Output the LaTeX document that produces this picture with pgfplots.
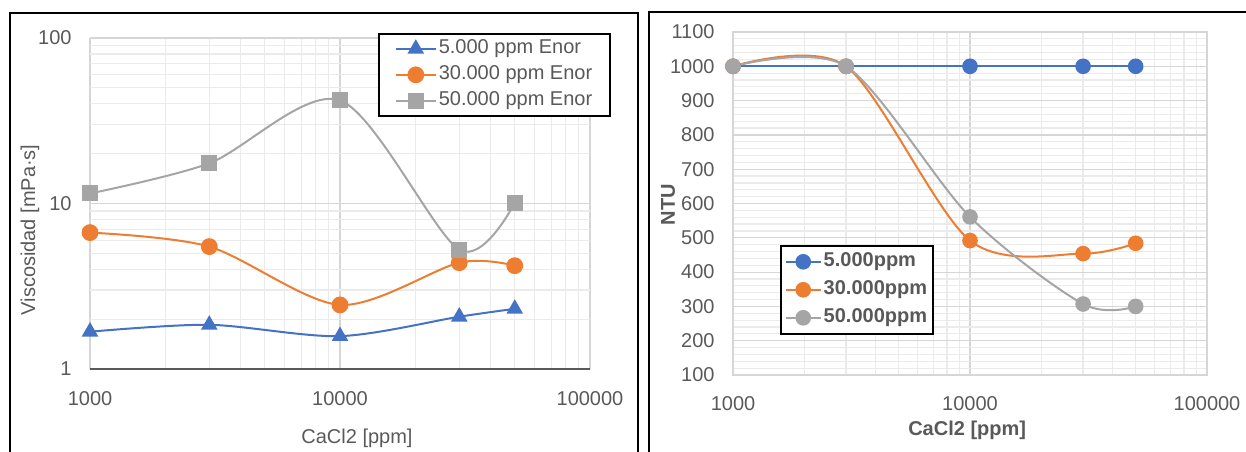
\documentclass[border=0pt]{standalone}
\usepackage{pgfplots}
\pgfplotsset{compat=1.18}
\usepackage{fontspec}
\setmainfont{Liberation Sans}
\definecolor{cblue}{HTML}{4472C4}
\definecolor{corange}{HTML}{ED7D31}
\definecolor{cgray}{HTML}{A5A5A5}
\definecolor{ctext}{HTML}{595959}
\definecolor{gmaj}{HTML}{D6D6D6}
\definecolor{gmin}{HTML}{EBEBEB}
\begin{document}
\begin{tikzpicture}
\path[use as bounding box] (0,0) rectangle (623pt,225.5pt);
\draw[line width=1.25pt] (5pt,-2pt) -- (5pt,219pt) -- (319pt,219pt) -- (319pt,-2pt);
\draw[line width=1.25pt] (324.5pt,-2pt) -- (324.5pt,219.5pt) -- (626pt,219.5pt);

\begin{axis}[
  scale only axis, anchor=south west,
  at={(45pt,41pt)}, width=250pt, height=165.5pt,
  xmode=log, ymode=log, xmin=1000, xmax=100000, ymin=1, ymax=100,
  xtick={1000,10000,100000}, xticklabels={1000,10000,100000},
  minor xtick={2000,3000,4000,5000,6000,7000,8000,9000,20000,30000,40000,50000,60000,70000,80000,90000},
  ytick={1,10,100}, yticklabels={1,10,100},
  minor ytick={2,3,4,5,6,7,8,9,20,30,40,50,60,70,80,90},
  grid=both,
  major grid style={draw=gmaj, line width=0.6pt},
  minor grid style={draw=gmin, line width=0.6pt},
  major tick length=0pt, minor tick length=0pt,
  tick label style={font=\fontsize{10}{12}\selectfont, text=ctext},
  yticklabel style={xshift=-5.7pt},
  xticklabel style={yshift=-7.6pt},
  axis line style={draw=none},
  xlabel={CaCl2 [ppm]},
  xlabel style={font=\fontsize{10}{12}\selectfont, text=ctext, at={(axis description cs:0.534,-0.208)}, anchor=center},
  ylabel={Viscosidad [mPa·s]},
  ylabel style={font=\fontsize{10}{12}\selectfont, text=ctext, at={(axis description cs:-0.12,0.42)}, anchor=center},
  legend cell align=left,
  legend style={at={(axis description cs:0.576,1.015)}, anchor=north west,
    draw=black, line width=0.8pt, inner xsep=8pt, inner ysep=1pt, row sep=0pt,
    font=\fontsize{10}{12}\selectfont, text=ctext,
    nodes={inner xsep=1pt, inner ysep=0pt, text height=9pt, text depth=4pt}},
  legend image code/.code={\draw[mark repeat=2,mark phase=2] plot coordinates {(0pt,0pt) (10pt,0pt) (20pt,0pt)};},
]
\addplot[cblue, line width=1pt, smooth, mark=triangle*, mark size=3.8pt, mark options={fill=cblue, draw=cblue}] coordinates {
(1000,1.68) (3000,1.85) (10000,1.58) (30000,2.07) (50000,2.31)};
\addlegendentry{5.000 ppm Enor}
\addplot[corange, line width=1pt, smooth, mark=*, mark size=3.7pt, mark options={fill=corange, draw=corange}] coordinates {
(1000,6.67) (3000,5.49) (10000,2.44) (30000,4.39) (50000,4.21)};
\addlegendentry{30.000 ppm Enor}
\addplot[cgray, line width=1pt, smooth, mark=square*, mark size=3.5pt, mark options={fill=cgray, draw=cgray}] coordinates {
(1000,11.5) (3000,17.5) (10000,42) (30000,5.26) (50000,10.1)};
\addlegendentry{50.000 ppm Enor}
\end{axis}

\begin{axis}[
  scale only axis, anchor=south west,
  at={(366.5pt,38pt)}, width=237pt, height=171.5pt,
  xmode=log, xmin=1000, xmax=100000, ymin=100, ymax=1100,
  xtick={1000,10000,100000}, xticklabels={1000,10000,100000},
  minor xtick={2000,3000,4000,5000,6000,7000,8000,9000,20000,30000,40000,50000,60000,70000,80000,90000},
  ytick={100,200,300,400,500,600,700,800,900,1000,1100},
  yticklabels={100,200,300,400,500,600,700,800,900,1000,1100},
  minor y tick num=4,
  grid=both,
  major grid style={draw=gmaj, line width=0.6pt},
  minor grid style={draw=gmin, line width=0.6pt},
  major tick length=0pt, minor tick length=0pt,
  tick label style={font=\fontsize{10}{12}\selectfont, text=ctext},
  yticklabel style={xshift=-5.7pt},
  xticklabel style={yshift=-7pt},
  axis line style={draw=gmaj, line width=0.6pt},
  xlabel={\bfseries CaCl2 [ppm]},
  xlabel style={font=\fontsize{10}{12}\selectfont, text=ctext, at={(axis description cs:0.494,-0.16)}, anchor=center},
  ylabel={\bfseries NTU},
  ylabel style={font=\fontsize{10}{12}\selectfont, text=ctext, at={(axis description cs:-0.137,0.496)}, anchor=center},
  legend cell align=left,
  legend style={at={(axis description cs:0.099,0.379)}, anchor=north west,
    draw=black, line width=0.8pt, inner xsep=2pt, inner ysep=1pt, row sep=0pt,
    font=\fontsize{10}{12}\selectfont\bfseries, text=ctext,
    nodes={inner xsep=1pt, inner ysep=0pt, text height=9.5pt, text depth=4.5pt}},
  legend image code/.code={\draw[mark repeat=2,mark phase=2] plot coordinates {(0pt,0pt) (8.75pt,0pt) (17.5pt,0pt)};},
]
\addplot[cblue, line width=1pt, smooth, mark=*, mark size=3.4pt, mark options={fill=cblue, draw=cblue}] coordinates {
(1000,1000) (3000,1000) (10000,1000) (30000,1000) (50000,1000)};
\addlegendentry{5.000ppm}
\addplot[corange, line width=1pt, smooth, mark=*, mark size=3.4pt, mark options={fill=corange, draw=corange}] coordinates {
(1000,1000) (3000,1000) (10000,492) (30000,454) (50000,484)};
\addlegendentry{30.000ppm}
\addplot[cgray, line width=1pt, smooth, mark=*, mark size=3.4pt, mark options={fill=cgray, draw=cgray}] coordinates {
(1000,1000) (3000,1000) (10000,561) (30000,307) (50000,300)};
\addlegendentry{50.000ppm}
\end{axis}
\draw[color=ctext, line width=1.3pt] (45pt,41pt) -- (295pt,41pt);
\end{tikzpicture}
\end{document}
